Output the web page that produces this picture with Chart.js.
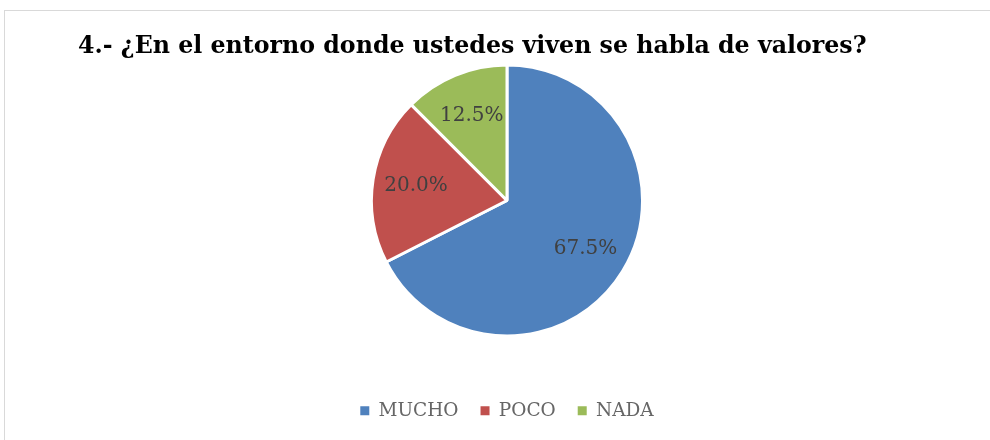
<!DOCTYPE html>
<html>
<head>
<meta charset="utf-8">
<script src="https://cdn.jsdelivr.net/npm/chart.js@4"></script>
<style>
  html, body { margin: 0; padding: 0; background: #fff; }
  #wrap { position: relative; width: 990px; height: 440px; overflow: hidden; }
  #frame { position: absolute; left: 4px; top: 10px; width: 1000px; height: 500px; border: 1px solid #d9d9d9; box-sizing: border-box; }
  #c { position: absolute; left: 0; top: 0; }
</style>
</head>
<body>
<div id="wrap">
  <div id="frame"></div>
  <canvas id="c" width="990" height="440"></canvas>
</div>
<script>
'use strict';

const labels = ['MUCHO', 'POCO', 'NADA'];
const values = [67.5, 20.0, 12.5];
const colors = ['#4F81BD', '#C0504D', '#9BBB59'];
const title = '4.- ¿En el entorno donde ustedes viven se habla de valores?';

const serif = '"DejaVu Serif", "Liberation Serif", serif';

// percentage labels, placed a bit outside the middle of each slice
const sliceLabels = {
  id: 'sliceLabels',
  afterDatasetsDraw(chart) {
    const { ctx } = chart;
    const meta = chart.getDatasetMeta(0);
    ctx.save();
    ctx.font = '20px ' + serif;
    ctx.fillStyle = '#404040';
    ctx.textAlign = 'center';
    ctx.textBaseline = 'middle';
    meta.data.forEach((arc, i) => {
      const mid = (arc.startAngle + arc.endAngle) / 2;
      const r = arc.outerRadius * 0.68;
      ctx.fillText(values[i].toFixed(1) + '%', arc.x + Math.cos(mid) * r, arc.y + Math.sin(mid) * r);
    });
    ctx.restore();
  },
};

new Chart(document.getElementById('c'), {
  type: 'pie',
  data: {
    labels,
    datasets: [{ data: values, backgroundColor: colors, borderColor: '#fff', borderWidth: 3 }],
  },
  options: {
    responsive: false,
    animation: false,
    layout: { padding: { left: 78, right: 54, top: 0, bottom: 10 } },
    plugins: {
      title: {
        display: true, text: title, align: 'start', color: '#000',
        font: { family: serif, size: 23.7, weight: 'bold' },
        padding: { top: 33, bottom: 2 },
      },
      legend: {
        position: 'bottom',
        // empty legend title only pushes the pie up, away from the legend row
        title: { display: true, text: ' ', font: { size: 10 }, padding: { top: 0, bottom: 30 } },
        labels: {
          color: '#595959', boxWidth: 9, boxHeight: 9, padding: 22,
          font: { family: serif, size: 18.5 },
          generateLabels: () => labels.map((l, i) => ({
            text: l, fillStyle: colors[i], strokeStyle: colors[i], lineWidth: 0, index: i,
          })),
        },
      },
      tooltip: { enabled: false },
    },
  },
  plugins: [sliceLabels],
});
</script>
</body>
</html>
